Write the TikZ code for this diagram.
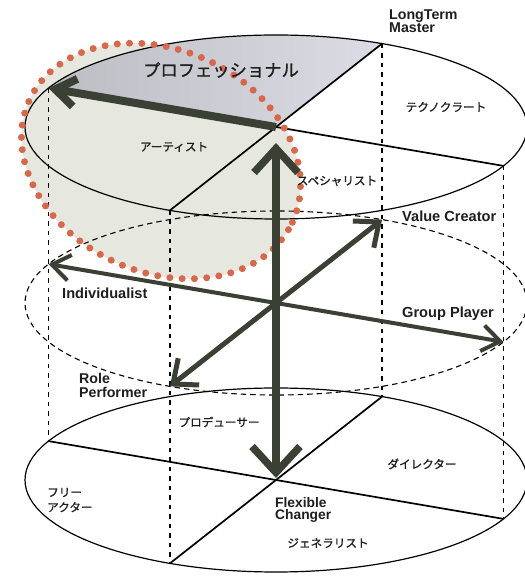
\documentclass[tikz,border=0pt]{standalone}
\usepackage{fontspec}
\setmainfont{Liberation Sans}
\newfontfamily\jpfont[FakeBold=1]{Noto Sans CJK JP}
\usetikzlibrary{arrows.meta}
\definecolor{arrowcol}{HTML}{3B4034}
\definecolor{dotred}{HTML}{D9684A}
\definecolor{lightfill}{HTML}{E6E8E0}
\definecolor{profdark}{HTML}{BCBCC3}
\definecolor{proflight}{HTML}{DCDCE5}
\definecolor{inkcol}{HTML}{1E1E1E}
\begin{document}
\begin{tikzpicture}[x=1pt,y=1pt,
  rim/.style={draw=black,line width=1.2pt},
  divline/.style={draw=black,line width=1.7pt},
  midrim/.style={draw=black,line width=1.1pt,dash pattern=on 5.5pt off 4pt},
  vdash/.style={draw=black,line width=1.2pt,dash pattern=on 4.5pt off 5pt},
  thickarrow/.style={draw=arrowcol,line cap=butt},
  enlabel/.style={inner sep=0pt,text=inkcol,font=\bfseries\fontsize{14.6}{14}\selectfont},
  jplabel/.style={inner sep=0pt,text=inkcol,font=\jpfont\fontsize{11.6}{15}\selectfont},
  dotring/.style={draw=dotred,line width=7pt,line cap=round,dash pattern=on 0pt off 12.3pt}]
\useasboundingbox (0,0) rectangle (525,576);
\clip (0,0) rectangle (525,576);
\fill[white] (0,0) rectangle (525,576);

% key points of the three ellipses
\foreach \n/\cy in {T/449,M/273,B/96}{
  \coordinate (\n C) at (276,\cy);
  \coordinate (\n L) at ({276+251*cos(155)},{\cy+92*sin(155)});
  \coordinate (\n U) at ({276+251*cos(65)},{\cy+92*sin(65)});
  \coordinate (\n D) at ({276+251*cos(245)},{\cy+92*sin(245)});
  \coordinate (\n R) at ({276+251*cos(335)},{\cy+92*sin(335)});
}
\coordinate (RC) at (161,415);
\coordinate (VA) at (276,433);
\coordinate (VB) at (276,98);

% highlighted region
\fill[lightfill,rotate around={-25:(RC)}] (RC) ellipse[x radius=145pt,y radius=111pt];
\path[left color=profdark,right color=proflight]
  (TC) -- (TL) arc[start angle=155,end angle=65,x radius=251pt,y radius=92pt] -- cycle;

% vertical dashed guides
\draw[vdash] (TL) -- (BL);
\draw[vdash] (TU) -- (BU);
\draw[vdash] (TD) -- (BD);
\draw[vdash] (TR) -- (BR);

% ellipses
\draw[midrim] (MC) ellipse[x radius=251pt,y radius=92pt];
\draw[rim] (BC) ellipse[x radius=251pt,y radius=92pt];
\draw[divline] (BL) -- (BR);
\draw[divline] (BU) -- (BD);
\draw[rim] (TC) ellipse[x radius=251pt,y radius=92pt];
\draw[divline] (TL) -- (TR);
\draw[divline] (TU) -- (TD);

% red dotted ring
\draw[dotring,rotate around={-25:(RC)}] (RC) ellipse[x radius=145pt,y radius=111pt];

% arrows
\draw[thickarrow,line width=4pt,{Straight Barb[length=18pt,width=26pt]}-{Straight Barb[length=18pt,width=26pt]}] (ML) -- (MR);
\draw[thickarrow,line width=5pt,{Straight Barb[length=20pt,width=34pt]}-{Straight Barb[length=20pt,width=34pt]}] (MD) -- (MU);
\draw[thickarrow,line width=7.5pt,{Straight Barb[length=24pt,width=44pt]}-{Straight Barb[length=26pt,width=48pt]}] (VA) -- (VB);
\draw[thickarrow,line width=8pt,-{Straight Barb[length=20pt,width=28pt]}] (TC) -- (TL);

% labels
\node[enlabel,align=left,anchor=north west,font=\bfseries\fontsize{14.2}{13}\selectfont] (ltm) at (389,566) {LongTerm\\Master};
\node[enlabel,anchor=base west] (vc) at (402,354) {Value Creator};
\node[enlabel,anchor=base west] (ind) at (62,277) {Individualist};
\node[enlabel,anchor=base west] (gp) at (402,258) {Group Player};
\node[enlabel,align=left,anchor=north west,font=\bfseries\fontsize{14.2}{14}\selectfont] (rp) at (79,203) {Role\\Performer};
\node[enlabel,align=left,anchor=north west,font=\bfseries\fontsize{13.8}{12.5}\selectfont] (fc) at (275,79) {Flexible\\Changer};

\node[jplabel,font=\jpfont\fontsize{17.3}{20}\selectfont] (prof) at (221,506) {プロフェッショナル};
\node[jplabel] (tech) at (446,469) {テクノクラート};
\node[jplabel] (art) at (174,429) {アーティスト};
\node[jplabel] (spec) at (337,395) {スペシャリスト};
\node[jplabel] (prod) at (219,154) {プロデューサー};
\node[jplabel] (dir) at (422,112) {ダイレクター};
\node[jplabel,align=left,anchor=west,font=\jpfont\fontsize{11.6}{15}\selectfont] (free) at (47,76) {フリー\\アクター};
\node[jplabel] (gen) at (328,33) {ジェネラリスト};
\end{tikzpicture}
\end{document}
